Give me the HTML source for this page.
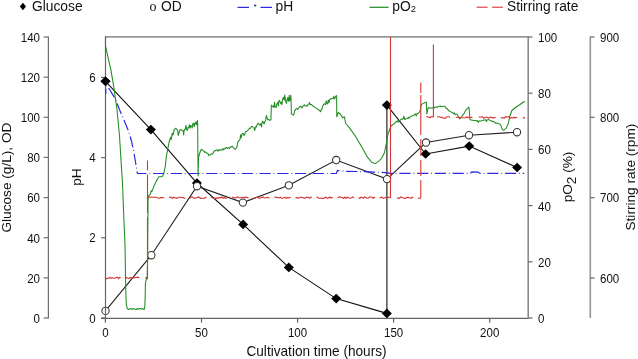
<!DOCTYPE html>
<html><head><meta charset="utf-8"><style>
html,body{margin:0;padding:0;background:#fff;}
body{width:638px;height:359px;overflow:hidden;position:relative;}
svg{position:absolute;left:0;top:0;will-change:transform;}
text{font-family:"Liberation Sans",sans-serif;fill:#111;}
.tk{font-size:12.3px;}
.lg{font-size:13.8px;}
.lgs{font-family:"Liberation Serif",serif;font-size:14px;}
.ttl{font-size:13.65px;}
</style></head><body>
<svg width="638" height="359" viewBox="0 0 638 359">
<line x1="105" y1="36.9" x2="528" y2="36.9" stroke="#979797" stroke-width="1.6"/>
<line x1="48.4" y1="36.5" x2="48.4" y2="318.4" stroke="#6e6e6e" stroke-width="1.2"/>
<line x1="43.6" y1="318.0" x2="48.4" y2="318.0" stroke="#6e6e6e" stroke-width="1.2"/>
<text transform="translate(40.00,322.90) scale(0.94,1)" class="tk" text-anchor="end">0</text>
<line x1="43.6" y1="277.9" x2="48.4" y2="277.9" stroke="#6e6e6e" stroke-width="1.2"/>
<text transform="translate(40.00,282.76) scale(0.94,1)" class="tk" text-anchor="end">20</text>
<line x1="43.6" y1="237.7" x2="48.4" y2="237.7" stroke="#6e6e6e" stroke-width="1.2"/>
<text transform="translate(40.00,242.62) scale(0.94,1)" class="tk" text-anchor="end">40</text>
<line x1="43.6" y1="197.6" x2="48.4" y2="197.6" stroke="#6e6e6e" stroke-width="1.2"/>
<text transform="translate(40.00,202.48) scale(0.94,1)" class="tk" text-anchor="end">60</text>
<line x1="43.6" y1="157.4" x2="48.4" y2="157.4" stroke="#6e6e6e" stroke-width="1.2"/>
<text transform="translate(40.00,162.34) scale(0.94,1)" class="tk" text-anchor="end">80</text>
<line x1="43.6" y1="117.3" x2="48.4" y2="117.3" stroke="#6e6e6e" stroke-width="1.2"/>
<text transform="translate(40.00,122.20) scale(0.94,1)" class="tk" text-anchor="end">100</text>
<line x1="43.6" y1="77.2" x2="48.4" y2="77.2" stroke="#6e6e6e" stroke-width="1.2"/>
<text transform="translate(40.00,82.06) scale(0.94,1)" class="tk" text-anchor="end">120</text>
<line x1="43.6" y1="37.0" x2="48.4" y2="37.0" stroke="#6e6e6e" stroke-width="1.2"/>
<text transform="translate(40.00,41.92) scale(0.94,1)" class="tk" text-anchor="end">140</text>
<line x1="101.1" y1="318.0" x2="105.5" y2="318.0" stroke="#666" stroke-width="1.2"/>
<text transform="translate(95.70,322.60) scale(0.94,1)" class="tk" text-anchor="end">0</text>
<line x1="101.1" y1="237.8" x2="105.5" y2="237.8" stroke="#666" stroke-width="1.2"/>
<text transform="translate(95.70,242.40) scale(0.94,1)" class="tk" text-anchor="end">2</text>
<line x1="101.1" y1="157.6" x2="105.5" y2="157.6" stroke="#666" stroke-width="1.2"/>
<text transform="translate(95.70,162.20) scale(0.94,1)" class="tk" text-anchor="end">4</text>
<line x1="101.1" y1="77.4" x2="105.5" y2="77.4" stroke="#666" stroke-width="1.2"/>
<text transform="translate(95.70,82.00) scale(0.94,1)" class="tk" text-anchor="end">6</text>
<line x1="101.1" y1="318.3" x2="528.5" y2="318.3" stroke="#646464" stroke-width="1.2"/>
<line x1="105.4" y1="318.3" x2="105.4" y2="322.7" stroke="#646464" stroke-width="1.2"/>
<text transform="translate(105.40,336.80) scale(0.94,1)" class="tk" text-anchor="middle">0</text>
<line x1="201.5" y1="318.3" x2="201.5" y2="322.7" stroke="#646464" stroke-width="1.2"/>
<text transform="translate(201.48,336.80) scale(0.94,1)" class="tk" text-anchor="middle">50</text>
<line x1="297.6" y1="318.3" x2="297.6" y2="322.7" stroke="#646464" stroke-width="1.2"/>
<text transform="translate(297.55,336.80) scale(0.94,1)" class="tk" text-anchor="middle">100</text>
<line x1="393.6" y1="318.3" x2="393.6" y2="322.7" stroke="#646464" stroke-width="1.2"/>
<text transform="translate(393.62,336.80) scale(0.94,1)" class="tk" text-anchor="middle">150</text>
<line x1="489.7" y1="318.3" x2="489.7" y2="322.7" stroke="#646464" stroke-width="1.2"/>
<text transform="translate(489.70,336.80) scale(0.94,1)" class="tk" text-anchor="middle">200</text>
<line x1="528.2" y1="36.5" x2="528.2" y2="318.4" stroke="#8a8a8a" stroke-width="1.6"/>
<line x1="528.2" y1="318.0" x2="532.5" y2="318.0" stroke="#666" stroke-width="1.2"/>
<text transform="translate(538.00,323.00) scale(0.94,1)" class="tk">0</text>
<line x1="528.2" y1="261.8" x2="532.5" y2="261.8" stroke="#666" stroke-width="1.2"/>
<text transform="translate(538.00,266.80) scale(0.94,1)" class="tk">20</text>
<line x1="528.2" y1="205.6" x2="532.5" y2="205.6" stroke="#666" stroke-width="1.2"/>
<text transform="translate(538.00,210.60) scale(0.94,1)" class="tk">40</text>
<line x1="528.2" y1="149.4" x2="532.5" y2="149.4" stroke="#666" stroke-width="1.2"/>
<text transform="translate(538.00,154.40) scale(0.94,1)" class="tk">60</text>
<line x1="528.2" y1="93.2" x2="532.5" y2="93.2" stroke="#666" stroke-width="1.2"/>
<text transform="translate(538.00,98.20) scale(0.94,1)" class="tk">80</text>
<line x1="528.2" y1="37.0" x2="532.5" y2="37.0" stroke="#666" stroke-width="1.2"/>
<text transform="translate(538.00,42.00) scale(0.94,1)" class="tk">100</text>
<line x1="590.3" y1="36.5" x2="590.3" y2="318.1" stroke="#959595" stroke-width="1.6"/>
<line x1="590.3" y1="278.0" x2="594.5" y2="278.0" stroke="#666" stroke-width="1.2"/>
<text transform="translate(600.00,282.69) scale(0.94,1)" class="tk">600</text>
<line x1="590.3" y1="197.7" x2="594.5" y2="197.7" stroke="#666" stroke-width="1.2"/>
<text transform="translate(600.00,202.36) scale(0.94,1)" class="tk">700</text>
<line x1="590.3" y1="117.3" x2="594.5" y2="117.3" stroke="#666" stroke-width="1.2"/>
<text transform="translate(600.00,122.03) scale(0.94,1)" class="tk">800</text>
<line x1="590.3" y1="37.0" x2="594.5" y2="37.0" stroke="#666" stroke-width="1.2"/>
<text transform="translate(600.00,41.70) scale(0.94,1)" class="tk">900</text>
<path d="M105.5,81.3 L150.9,129.6 L196.9,183.0 L243.1,224.4 L288.8,267.4 L336.2,298.6 L386.9,313.4 L386.9,105.1 L425.6,154.0 L469.2,146.1 L517.1,167.5" fill="none" stroke="#111" stroke-width="1.1"/>
<path d="M105.5,76.5 L110.5,81.3 L105.5,86.1 L100.5,81.3 Z" fill="#000"/>
<path d="M150.9,124.8 L155.9,129.6 L150.9,134.4 L145.9,129.6 Z" fill="#000"/>
<path d="M196.9,178.2 L201.9,183.0 L196.9,187.8 L191.9,183.0 Z" fill="#000"/>
<path d="M243.1,219.6 L248.1,224.4 L243.1,229.2 L238.1,224.4 Z" fill="#000"/>
<path d="M288.8,262.6 L293.8,267.4 L288.8,272.2 L283.8,267.4 Z" fill="#000"/>
<path d="M336.2,293.8 L341.2,298.6 L336.2,303.4 L331.2,298.6 Z" fill="#000"/>
<path d="M386.9,308.6 L391.9,313.4 L386.9,318.2 L381.9,313.4 Z" fill="#000"/>
<path d="M386.9,100.3 L391.9,105.1 L386.9,109.9 L381.9,105.1 Z" fill="#000"/>
<path d="M425.6,149.2 L430.6,154.0 L425.6,158.8 L420.6,154.0 Z" fill="#000"/>
<path d="M469.2,141.3 L474.2,146.1 L469.2,150.9 L464.2,146.1 Z" fill="#000"/>
<path d="M517.1,162.7 L522.1,167.5 L517.1,172.3 L512.1,167.5 Z" fill="#000"/>
<path d="M105.5,310.9 L151.3,255.2 L197.0,186.2 L242.9,202.6 L288.9,185.3 L336.2,160.0 L387.0,179.1 L426.0,142.5 L469.0,135.2 L517.0,132.2" fill="none" stroke="#222" stroke-width="1.1"/>
<circle cx="105.5" cy="310.9" r="3.65" fill="#fff" stroke="#333" stroke-width="1.05"/>
<circle cx="151.3" cy="255.2" r="3.65" fill="#fff" stroke="#333" stroke-width="1.05"/>
<circle cx="197.0" cy="186.2" r="3.65" fill="#fff" stroke="#333" stroke-width="1.05"/>
<circle cx="242.9" cy="202.6" r="3.65" fill="#fff" stroke="#333" stroke-width="1.05"/>
<circle cx="288.9" cy="185.3" r="3.65" fill="#fff" stroke="#333" stroke-width="1.05"/>
<circle cx="336.2" cy="160.0" r="3.65" fill="#fff" stroke="#333" stroke-width="1.05"/>
<circle cx="387.0" cy="179.1" r="3.65" fill="#fff" stroke="#333" stroke-width="1.05"/>
<circle cx="426.0" cy="142.5" r="3.65" fill="#fff" stroke="#333" stroke-width="1.05"/>
<circle cx="469.0" cy="135.2" r="3.65" fill="#fff" stroke="#333" stroke-width="1.05"/>
<circle cx="517.0" cy="132.2" r="3.65" fill="#fff" stroke="#333" stroke-width="1.05"/>
<line x1="105.5" y1="36.5" x2="105.5" y2="318.4" stroke="#666" stroke-width="1.2"/>
<path d="M105.5,76.5 L110.5,81.3 L105.5,86.1 L100.5,81.3 Z" fill="#000"/>
<path d="M105.8,93.7 L105.8,85.6 L107.5,86.8 L109.8,89.8 L112.7,94.6 L114.6,97.6 L117.1,103.4 L121.0,113.2 L125.0,122.5 L128.5,131.0 L131.2,140.0 L133.5,150.0 L135.5,162.0 L136.8,170.5 L137.5,173.5 L336.3,173.5 L337.5,170.5 L345.0,171.3 L364.0,171.6 L385.0,172.6 L391.0,173.4 L470.0,173.4 L472.0,171.9 L478.0,172.1 L480.0,173.4 L524.3,173.4" fill="none" stroke="#2a2ae6" stroke-width="1.2" stroke-dasharray="11.2 2.9 0.8 2.85" stroke-dashoffset="5.95"/>
<path d="M105.5,36.8 L105.5,46.0 L107.0,52.7 L109.2,62.7 L110.8,69.3 L112.5,79.3 L114.2,89.3 L115.0,95.8 L116.7,106.7 L119.5,135.7 L121.2,163.6 L122.3,180.0 L122.8,190.0 L123.3,205.0 L125.0,245.0 L125.4,270.0 L125.8,290.0 L126.3,304.8 L127.4,308.8 L128.7,309.5 L129.5,309.0 L130.2,308.4 L130.8,308.7 L131.5,309.0 L132.1,309.4 L132.8,308.6 L133.4,308.6 L134.1,309.1 L134.7,309.3 L135.4,309.2 L136.0,309.0 L136.7,309.3 L137.3,308.6 L138.0,309.3 L138.6,309.2 L139.3,308.5 L139.9,308.6 L140.6,308.6 L141.2,309.1 L142.0,308.6 L142.8,308.8 L144.1,309.5 L144.8,306.8 L145.2,296.8 L145.4,283.4 L146.1,280.0 L147.2,276.7 L147.6,260.0 L147.8,230.0 L148.0,210.0 L148.0,200.4 L148.5,196.2 L150.5,194.1 L151.2,190.7 L151.9,191.4 L154.7,184.4 L157.5,178.8 L158.9,176.7 L161.0,176.7 L162.8,176.0 L163.8,173.2 L165.2,167.0 L166.5,155.4 L167.9,148.4 L169.2,141.5 L170.6,137.3 L171.2,139.7 L171.7,136.6 L172.3,133.1 L172.9,135.1 L173.5,133.8 L174.1,129.6 L174.8,129.3 L175.5,128.2 L176.2,128.6 L176.9,129.6 L177.6,130.3 L178.2,135.4 L178.7,133.8 L179.3,131.6 L179.8,129.9 L180.4,129.6 L181.0,130.0 L181.5,129.9 L182.1,130.6 L182.6,130.7 L183.2,131.0 L183.7,135.0 L184.2,129.4 L184.8,129.6 L185.3,128.9 L186.0,125.4 L186.7,129.6 L187.3,130.4 L188.0,127.5 L188.7,127.9 L189.4,124.7 L190.1,128.2 L190.8,125.5 L191.5,126.1 L192.2,127.9 L192.9,123.4 L193.6,123.6 L194.3,126.6 L195.0,122.7 L195.7,122.1 L196.4,124.8 L197.1,121.3 L197.6,120.5 L198.1,175.8 L198.6,157.0 L200.4,151.0 L201.4,149.4 L202.4,149.9 L203.4,151.0 L204.2,151.4 L204.9,152.4 L205.7,152.0 L206.5,152.5 L207.2,153.6 L208.0,153.7 L208.8,155.8 L209.5,154.8 L210.3,154.8 L211.0,154.4 L211.8,153.7 L212.6,154.0 L213.4,152.4 L214.1,151.0 L214.9,150.6 L215.7,150.7 L216.4,150.0 L217.2,149.8 L218.0,151.3 L218.7,150.1 L219.5,150.2 L220.3,149.5 L221.0,150.3 L221.8,150.1 L222.6,148.9 L223.3,149.9 L224.1,148.6 L224.9,149.0 L225.6,147.8 L226.4,147.5 L227.2,148.5 L227.9,148.0 L228.7,147.6 L229.5,148.5 L230.2,147.1 L231.0,146.6 L231.7,146.9 L232.5,146.3 L233.4,147.8 L234.2,148.7 L235.1,149.4 L235.9,148.3 L236.7,147.9 L237.9,141.8 L239.4,140.2 L240.0,139.3 L240.6,134.9 L241.2,137.8 L241.9,134.4 L242.5,133.3 L243.2,133.4 L244.0,135.5 L244.8,134.2 L245.5,131.8 L246.3,131.4 L247.1,131.1 L247.8,130.3 L248.6,129.5 L249.4,128.2 L250.1,128.4 L250.9,127.5 L251.7,126.4 L252.5,126.5 L253.2,127.3 L254.0,128.0 L254.8,130.5 L255.5,126.7 L256.3,127.1 L257.0,124.8 L257.8,123.4 L258.6,123.5 L259.3,125.0 L260.1,124.9 L260.8,123.8 L261.5,127.0 L262.1,122.2 L262.8,121.1 L263.5,123.0 L264.2,123.9 L264.9,121.5 L265.6,120.5 L266.3,115.5 L267.0,117.3 L267.7,119.7 L268.4,119.6 L269.1,119.7 L269.8,120.4 L270.4,119.9 L270.9,119.7 L271.4,105.1 L272.0,105.9 L272.6,106.4 L273.2,107.2 L273.7,105.6 L274.1,107.3 L274.6,102.3 L275.1,106.8 L275.6,107.1 L276.2,107.5 L276.7,104.4 L277.3,103.6 L277.8,102.2 L278.4,105.9 L278.9,101.0 L279.5,100.2 L280.0,101.7 L280.4,102.5 L280.9,103.7 L281.4,102.3 L281.9,104.7 L282.5,99.5 L283.0,98.1 L283.6,97.3 L284.2,100.2 L284.8,95.0 L285.3,98.8 L285.8,101.6 L286.3,103.4 L286.9,101.2 L287.4,98.7 L287.9,97.4 L288.4,101.3 L288.8,100.8 L289.3,95.3 L289.8,100.7 L290.4,100.1 L290.9,95.3 L291.4,114.1 L293.2,115.1 L293.9,114.3 L294.6,110.7 L295.4,110.0 L296.1,108.9 L296.9,108.6 L297.8,109.4 L298.6,108.2 L299.5,106.9 L300.4,106.2 L301.1,106.5 L301.8,107.9 L302.5,107.3 L303.2,105.6 L303.9,105.1 L304.6,104.7 L305.3,106.2 L306.0,106.1 L306.7,105.8 L307.4,106.1 L308.1,104.3 L308.8,104.1 L309.5,102.6 L310.2,104.8 L310.9,104.4 L311.6,104.5 L312.3,105.8 L313.1,105.8 L314.0,106.8 L314.9,107.4 L315.7,107.9 L319.9,110.7 L320.6,111.8 L321.3,109.9 L322.0,108.9 L322.7,106.0 L323.4,105.1 L324.1,103.8 L324.8,104.1 L325.5,104.6 L326.2,100.9 L326.9,103.1 L327.6,104.0 L328.3,100.0 L329.0,102.6 L329.7,99.5 L330.4,99.4 L331.1,98.6 L331.8,98.7 L332.5,98.1 L333.2,98.6 L333.9,96.4 L334.6,98.8 L335.2,97.4 L335.9,96.0 L336.6,95.6 L336.8,116.8 L338.3,112.3 L340.6,114.5 L342.8,117.9 L344.4,116.8 L345.7,123.5 L349.5,127.9 L355.1,135.7 L361.8,146.9 L367.3,156.9 L371.8,162.5 L375.2,163.6 L378.5,161.4 L381.8,158.0 L384.5,152.5 L386.3,143.5 L388.1,133.5 L389.5,130.0 L391.0,126.0 L394.5,123.4 L395.1,123.0 L395.8,121.8 L396.6,121.7 L397.3,120.9 L398.1,122.2 L398.8,120.4 L399.6,121.0 L400.3,120.1 L401.0,119.5 L401.7,119.3 L402.4,118.7 L403.1,119.0 L403.9,116.2 L404.8,119.5 L405.6,119.2 L406.4,118.6 L407.2,118.1 L408.0,118.4 L408.8,117.4 L409.5,117.9 L410.3,116.8 L411.1,116.1 L412.0,116.0 L412.8,115.8 L413.6,115.6 L414.5,114.5 L415.3,113.9 L416.2,115.9 L417.0,113.5 L417.7,113.6 L418.5,113.0 L419.2,112.3 L420.1,111.2 L421.2,104.5 L423.5,103.4 L426.3,102.0 L426.8,114.0 L428.1,107.9 L428.9,107.5 L429.6,107.9 L430.4,108.2 L431.1,108.0 L431.9,108.1 L432.6,107.9 L433.4,107.8 L434.1,108.1 L434.9,107.0 L435.6,106.9 L436.4,106.9 L437.1,107.5 L437.8,106.8 L438.6,106.5 L439.3,106.3 L440.1,105.9 L440.9,106.6 L441.7,106.5 L442.5,106.5 L443.3,106.3 L444.1,106.3 L444.9,106.3 L445.6,107.4 L446.3,108.6 L447.1,108.6 L447.8,109.5 L448.5,110.5 L449.3,111.0 L450.2,111.5 L451.0,111.9 L451.9,112.2 L452.7,112.6 L453.5,113.8 L454.4,112.9 L455.2,114.6 L456.1,114.0 L456.9,114.0 L459.7,119.0 L463.3,114.7 L466.1,109.8 L468.9,107.0 L470.0,119.7 L473.9,120.4 L474.6,120.5 L475.3,120.5 L476.0,120.6 L476.7,121.1 L477.5,120.6 L478.3,122.4 L479.1,120.8 L479.9,120.9 L480.7,121.0 L481.5,120.9 L482.3,120.4 L483.1,120.3 L483.9,119.9 L484.7,120.0 L485.5,119.6 L486.3,121.4 L487.1,120.1 L487.9,119.6 L488.7,119.7 L489.5,119.9 L490.3,120.5 L491.1,120.7 L492.0,121.7 L492.8,121.2 L493.6,121.8 L494.4,121.8 L495.3,123.1 L496.1,123.1 L497.0,123.2 L497.8,123.2 L500.6,124.6 L502.0,128.9 L503.5,130.3 L506.3,128.1 L508.4,123.2 L509.8,116.2 L511.9,110.5 L516.2,107.0 L520.4,104.2 L524.6,101.3" fill="none" stroke="#1e8c1e" stroke-width="1.05" stroke-linejoin="round"/>
<path d="M105.4,278.6 L106.6,278.6 L107.8,278.0 L109.0,278.3 L110.2,277.2 L111.4,278.3 L112.6,277.8 L113.8,278.3 L115.0,278.1 L116.2,277.6 L117.4,277.2 L118.6,278.6 L119.8,277.3 L120.6,277.9 M125.3,277.6 L126.5,277.6 L127.7,278.3 L128.9,278.7 L130.1,277.5 L131.3,278.1 L132.5,277.6 L133.7,278.0 L134.9,277.7 L136.1,277.4 L137.3,277.4 L138.5,277.4 L139.3,278.2 M145.1,277.9 L146.3,277.5 L147.5,278.6 L147.5,278.3 M147.5,277.9 L147.5,217.5 M147.5,213 L147.5,174.5 M147.5,170.5 L147.5,160.5 M147.8,197.6 L149.0,197.1 L150.2,197.2 L151.4,197.0 L152.6,197.4 L153.8,197.0 L155.0,197.3 L156.2,197.3 L157.4,197.8 L158.6,198.3 L159.8,198.1 L161.0,197.6 L162.2,197.6 L163.4,197.7 L164.3,197.6 M168.9,197.4 L170.1,197.0 L171.3,197.3 L172.5,198.4 L173.7,197.1 L174.9,197.7 L176.1,197.9 L177.3,198.3 L178.5,197.2 L179.7,197.3 L180.9,197.3 L182.1,197.5 L183.3,197.6 L184.5,198.4 L185.4,198.0 M190.0,198.3 L191.2,196.9 L192.4,197.0 L193.6,198.0 L194.8,198.3 L196.0,197.7 L197.2,197.8 L198.4,196.9 L199.6,197.5 L200.8,198.4 L202.0,198.2 L203.2,198.3 L204.4,198.5 L205.6,197.3 L206.5,197.4 M211.0,197.1 L212.2,197.7 L213.4,198.0 L214.6,198.4 L215.8,198.1 L217.0,197.9 L218.2,198.1 L219.4,197.6 L220.6,197.8 L221.8,197.0 L223.0,198.2 L224.2,197.3 L225.4,198.4 L226.6,197.9 L227.5,197.5 M232.1,197.1 L233.3,197.3 L234.5,197.9 L235.7,198.0 L236.9,197.1 L238.1,197.0 L239.3,197.7 L240.5,197.8 L241.7,197.5 L242.9,197.3 L244.1,197.9 L245.3,196.9 L246.5,197.4 L247.7,197.6 L248.6,198.1 M253.2,197.9 L254.4,198.3 L255.6,197.7 L256.8,197.3 L258.0,197.3 L259.2,198.4 L260.4,198.0 L261.6,197.4 L262.8,196.9 L264.0,197.7 L265.2,198.0 L266.4,197.6 L267.6,197.3 L268.8,198.0 L269.7,198.0 M274.3,197.3 L275.5,197.0 L276.7,197.4 L277.9,197.6 L279.1,198.0 L280.3,197.2 L281.5,198.2 L282.7,198.1 L283.9,197.7 L285.1,197.2 L286.3,198.5 L287.5,197.4 L288.7,198.2 L289.9,197.3 L290.8,197.5 M295.4,198.1 L296.6,197.4 L297.8,198.4 L299.0,197.7 L300.2,197.2 L301.4,197.3 L302.6,197.6 L303.8,198.0 L305.0,198.4 L306.2,197.1 L307.4,197.5 L308.6,197.2 L309.8,198.5 L311.0,197.1 L311.9,197.3 M316.4,197.0 L317.6,197.5 L318.8,198.3 L320.0,198.3 L321.2,198.1 L322.4,198.5 L323.6,198.4 L324.8,197.4 L326.0,197.2 L327.2,198.4 L328.4,198.1 L329.6,197.0 L330.8,198.0 L332.0,197.5 L332.9,197.6 M337.5,197.4 L338.7,197.2 L339.9,196.9 L341.1,197.3 L342.3,197.5 L343.5,198.4 L344.7,197.1 L345.9,198.4 L347.1,197.2 L348.3,197.5 L349.5,198.2 L350.7,198.2 L351.9,197.6 L353.1,197.0 L354.0,197.7 M358.6,197.5 L359.8,198.4 L361.0,197.2 L362.2,197.5 L363.4,198.3 L364.6,196.9 L365.8,197.6 L367.0,198.2 L368.2,198.1 L369.4,197.0 L370.6,197.0 L371.8,197.0 L373.0,198.4 L374.2,197.3 L375.1,197.9 M379.7,198.3 L380.9,197.4 L382.1,197.3 L383.3,198.4 L384.5,197.9 L385.7,197.3 L386.9,198.0 L388.1,197.4 L389.3,197.3 L390.5,196.9 L390.5,197.9 M390.5,197.3 L390.5,37 M396.9,198.4 L398.1,197.9 L399.3,198.4 L400.5,196.9 L401.7,197.3 L402.9,197.7 L404.1,198.4 L405.3,198.4 L406.5,197.5 L407.7,197.3 L408.9,197.6 L410.1,197.7 L411.3,198.4 L412.5,197.2 L413.2,197.9 M417.8,198.1 L419.0,198.2 L420.2,198.1 L421.0,197.8 M420.8,197.7 L420.8,180 M420.8,176 L420.8,160 M420.8,156 L420.8,139 M420.8,135 L420.8,95 M420.8,93 L420.8,82.4 M426.4,116.9 L427.6,116.9 L428.8,117.0 L430.0,117.7 L431.2,116.5 L432.4,116.7 L433.4,117.4 M433.4,117.4 L433.4,44.5 M437.0,117.0 L438.2,116.7 L439.4,116.7 L440.6,117.5 L441.8,117.1 L443.0,118.2 L444.2,118.0 L445.4,118.2 L446.6,117.0 L447.8,116.7 L449.0,116.8 L450.0,117.4 M455.8,117.7 L457.0,117.3 L458.2,117.0 L459.4,117.3 L460.6,117.6 L461.8,117.7 L463.0,117.8 L464.2,118.0 L465.4,117.7 L466.6,116.8 L467.8,117.9 L469.0,117.1 L470.2,117.5 L471.4,117.2 L472.5,117.6 M478.8,116.9 L480.0,117.0 L481.2,117.0 L482.4,116.8 L483.6,118.0 L484.8,117.5 L486.0,117.1 L487.2,117.2 L488.4,118.2 L489.6,117.4 L490.8,117.0 L492.0,117.9 L493.2,117.6 L494.4,118.2 L495.5,117.1 M500.7,117.4 L501.9,117.9 L503.1,117.9 L504.3,118.1 L505.5,116.7 L506.7,117.1 L507.9,116.8 L509.1,116.9 L510.3,118.2 L511.5,117.5 L512.7,118.1 L513.9,117.2 L515.1,118.0 L516.3,117.3 L517.4,117.2 M522.7,117.8 L523.9,118.1 L524.8,117.1" fill="none" stroke="#d63434" stroke-width="1.1"/>
<path d="M22.9,2.8 L26.0,6.5 L22.9,10.2 L19.8,6.5 Z" fill="#000"/>
<text x="32" y="10.7" class="lg">Glucose</text>
<text x="149.5" y="10.9" class="lgs">o</text>
<text x="161" y="10.7" class="lg">OD</text>
<line x1="237.5" y1="7.4" x2="249" y2="7.4" stroke="#2a2ae6" stroke-width="1.2"/>
<rect x="254.1" y="4.7" width="2.1" height="1.7" fill="#2a2a9a"/>
<line x1="260.5" y1="7.4" x2="272" y2="7.4" stroke="#2a2ae6" stroke-width="1.2"/>
<text x="275.6" y="10.7" class="lg">pH</text>
<line x1="369.4" y1="7.3" x2="388.6" y2="7.3" stroke="#1e8c1e" stroke-width="1.2"/>
<text x="392.3" y="10.7" class="lg">pO<tspan font-size="9.3" dy="1.3">2</tspan></text>
<line x1="476.6" y1="7.2" x2="487.6" y2="7.2" stroke="#d63434" stroke-width="1.1"/>
<line x1="492" y1="7.2" x2="503" y2="7.2" stroke="#d63434" stroke-width="1.1"/>
<text x="507" y="10.7" class="lg">Stirring rate</text>
<text transform="translate(316.5,355.9) scale(1,1.1)" class="ttl" text-anchor="middle">Cultivation time (hours)</text>
<text transform="translate(10.9,177.6) rotate(-90)" class="ttl" text-anchor="middle">Glucose (g/L), OD</text>
<text transform="translate(80.9,177) rotate(-90)" class="ttl" text-anchor="middle">pH</text>
<text transform="translate(571.5,177) rotate(-90)" class="ttl" text-anchor="middle">pO<tspan font-size="13.5" dy="4.3">2</tspan><tspan dy="-4.3"> (%)</tspan></text>
<text transform="translate(634.8,177.1) rotate(-90)" class="ttl" text-anchor="middle">Stirring rate (rpm)</text>
</svg>
</body></html>
